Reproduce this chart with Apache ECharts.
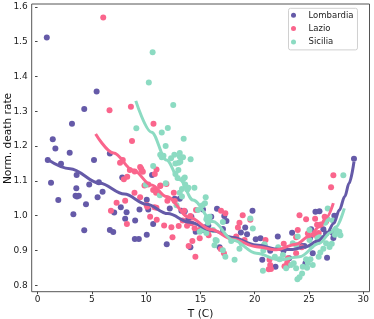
<!DOCTYPE html>
<html>
<head>
<meta charset="utf-8">
<script src="https://cdn.jsdelivr.net/npm/echarts@6/dist/echarts.min.js"></script>
<style>
html,body{margin:0;padding:0;background:#fff;}
#c{width:374px;height:319px;}
</style>
</head>
<body>
<div id="c"></div>
<script>
// ---- data ----
var seriesNames = ['Lombardia', 'Lazio', 'Sicilia'];
var xTicks = [0, 5, 10, 15, 20, 25, 30];
var yTicks = [0.8, 0.9, 1.0, 1.1, 1.2, 1.3, 1.4, 1.5, 1.6];
var xTitle = 'T (C)';
var yTitle = 'Norm. death rate';

var lombardia = [
[0.85,1.512],[5.44,1.357],[4.3,1.307],[3.17,1.264],[1.4,1.22],[1.64,1.193],[2.96,1.181],[6.66,1.179],[0.94,1.16],[5.2,1.16],
[1.24,1.095],[1.91,1.045],[2.16,1.149],[3.6,1.117],[3.57,1.079],[3.5,1.057],[3.63,1.055],[3.8,1.057],[3.3,1.004],[4.46,1.033],
[4.3,0.958],[4.76,1.09],[5.65,1.096],[5.53,1.053],[5.99,1.069],[6.66,0.959],[6.97,0.953],[7.06,1.009],[7.67,1.024],[7.8,1.11],
[8.2,1.01],[8.07,0.991],[8.99,0.986],[8.96,0.933],[9.33,0.933],[9.39,1.018],[10.06,1.046],[10.2,1.018],[10.06,0.945],[10.65,0.976],
[10.55,1.117],[11.9,0.918],[12.18,1.021],[12.64,1.049],[13.1,1.049],[13.25,1.014],[13.56,1.013],[14.17,0.997],[13.86,0.988],[14.08,0.909],
[14.57,0.954],[15.18,0.959],[15.24,1.018],[15.55,0.968],[15.73,0.972],[16.0,0.997],[16.53,1.02],[16.77,0.909],[17.08,0.962],[17.2,0.999],
[17.4,0.985],[18.73,0.952],[19.13,0.966],[19.3,0.947],[19.8,1.014],[20.1,0.932],[20.54,0.935],[20.9,0.916],[20.7,0.873],[21.43,0.899],
[21.92,0.853],[22.13,0.94],[22.66,0.899],[22.96,0.855],[23.18,0.878],[23.45,0.951],[24.37,0.913],[24.58,0.913],[24.68,0.863],[25.1,0.936],
[25.2,0.961],[25.35,0.892],[25.6,1.011],[25.8,0.925],[25.97,1.013],[26.33,0.961],[26.58,0.949],[26.67,0.879],[27.2,0.95],[27.25,0.936],
[27.34,1.0],[29.15,1.164]
];

var lazio = [
[6.05,1.57],[6.63,1.303],[8.6,1.313],[10.68,1.264],[8.7,1.215],
[7.6,1.152],[7.85,1.16],[8.5,1.131],[8.95,1.127],[9.45,1.14],[9.6,1.13],[9.7,1.126],[9.55,1.135],[10.8,1.12],[10.96,1.133],
[6.76,1.014],[7.28,1.037],[7.95,1.105],[8.26,1.112],[8.07,1.043],[8.23,0.976],[8.93,1.066],[9.45,1.053],[9.85,1.087],[10.04,1.031],
[10.37,0.997],[10.65,1.074],[10.77,1.024],[10.92,1.066],[10.98,0.988],[11.32,1.087],[11.66,0.972],[11.87,1.091],[11.96,1.043],[12.33,0.967],
[12.43,0.938],[12.55,1.066],[12.64,1.042],[13.0,0.97],[13.37,0.986],[13.5,1.014],[13.77,0.971],[13.92,0.913],[10.2,1.09],[11.3,1.085],
[10.1,1.026],[10.95,1.023],[14.17,0.978],[14.47,0.964],[14.94,0.935],[14.26,0.927],[15.1,0.968],[14.94,0.959],[14.6,1.016],[14.08,0.999],
[14.54,0.882],[15.7,0.954],[15.76,0.944],[16.87,0.904],[17.17,0.892],[16.9,1.014],[17.3,1.007],[18.0,0.932],[18.3,0.94],[18.46,0.966],
[18.6,0.98],[18.9,1.001],[19.07,0.93],[19.6,0.988],[21.0,0.93],[21.3,0.846],[21.5,0.847],[21.43,0.858],[21.37,0.873],[22.68,0.919],
[22.75,0.855],[23.0,0.865],[23.05,0.878],[23.82,0.938],[23.82,0.892],[23.97,0.959],[24.13,1.001],[24.34,0.909],[24.74,0.99],[24.9,0.949],
[25.5,0.945],[25.57,0.991],[25.75,0.974],[25.9,0.95],[26.1,0.975],[26.45,0.997],[26.58,0.983],[27.04,1.082],[27.25,1.116]
];

var sicilia = [
[10.6,1.47],[10.25,1.383],[9.1,1.251],[11.44,1.239],[12.0,1.252],[12.5,1.318],[11.8,1.2],[13.46,1.221],
[11.3,1.175],[11.44,1.168],[11.6,1.172],[12.6,1.175],[13.1,1.17],[13.4,1.168],[14.1,1.162],[12.3,1.165],
[12.7,1.15],[13.0,1.152],[12.7,1.12],[12.97,1.131],[13.56,1.11],[10.65,1.143],[13.1,1.18],[13.15,1.155],
[9.97,1.089],[11.26,1.059],[11.81,1.093],[12.8,1.03],[13.4,1.105],[13.6,1.09],[13.8,1.075],[13.1,1.066],[13.3,1.055],
[14.45,1.08],[13.3,1.077],[13.9,1.08],[12.9,1.108],
[14.78,1.016],[15.42,1.036],[15.49,1.053],[15.2,1.03],[15.6,0.995],[15.55,0.99],[15.85,0.997],[15.7,0.98],[14.94,0.954],
[15.2,0.96],[15.55,0.95],[16.16,0.959],[16.4,0.93],[16.5,0.928],[16.3,0.915],[17.07,0.982],[17.07,0.901],[17.3,0.882],[17.84,0.927],
[18.15,0.873],[18.8,0.92],[18.6,0.905],[19.6,0.992],[19.83,0.963],[20.76,0.842],[20.8,0.9],[20.9,0.918],[21.86,0.882],[22.3,0.875],
[22.17,0.909],[22.6,0.887],[22.9,0.849],[23.36,0.858],[23.51,0.921],[23.6,0.863],[23.82,0.849],[23.82,0.916],[23.97,0.94],[23.94,0.817],
[24.13,0.823],[24.37,0.834],[24.43,0.853],[24.74,0.875],[24.83,0.85],[24.9,0.864],[25.05,0.959],[25.05,0.93],[25.2,0.913],[25.14,0.875],
[25.35,0.858],[25.8,0.935],[25.9,0.882],[26.05,0.894],[25.97,0.938],[26.33,0.905],[26.5,0.98],[26.58,0.921],[26.73,0.99],[26.73,1.021],
[26.9,0.91],[27.1,0.919],[27.2,0.986],[27.4,0.945],[27.5,0.959],[27.8,0.954],[27.9,0.944],[28.17,1.116]
];

// fitted curves, points
var lombardiaFit = [[0.85,1.163],[3,1.135],[5.74,1.093],[8,1.062],[10.04,1.033],[12,1.006],[14.0,0.981],[16.16,0.957],[18,0.937],[20.1,0.916],[22.3,0.903],[23.5,0.903],[24.74,0.911],[25.8,0.927],[26.58,0.945],[27.3,0.978],[27.8,1.016],[28.3,1.055],[28.7,1.093],[29.15,1.155]];
var lazioFit = [[5.35,1.235],[7,1.18],[8.8,1.131],[10.5,1.088],[11.87,1.055],[14.0,0.995],[16,0.96],[18,0.932],[20.15,0.911],[22,0.902],[23.82,0.918],[25,0.94],[25.97,0.968],[26.6,0.995],[27.25,1.036]];
var siciliaFit = [[9.05,1.33],[10.5,1.24],[11.87,1.16],[13.1,1.103],[14.32,1.045],[16.16,0.983],[18.0,0.93],[20.15,0.892],[22.3,0.873],[24.13,0.882],[25.97,0.921],[27.0,0.952],[27.5,0.968],[28.26,1.021]];

var colors = ['#655aa8', '#fa658c', '#8cdbc2'];
var FONT = 'DejaVu Sans';

var chart = echarts.init(document.getElementById('c'), null, {renderer: 'canvas'});

function scatterSeries(name, data, color) {
  return {
    name: name, type: 'scatter', data: data, symbol: 'circle', symbolSize: 6,
    itemStyle: {color: color, opacity: 1}, z: 2, silent: true, animation: false
  };
}
function fitSeries(data, color) {
  return {
    name: '_fit', type: 'line', data: data, showSymbol: false, symbol: 'none',
    smooth: 0.35, smoothMonotone: 'x',
    lineStyle: {color: color, width: 3}, z: 3, silent: true, animation: false
  };
}

var option = {
  animation: false,
  backgroundColor: '#fff',
  textStyle: {fontFamily: FONT},
  grid: {left: 31.7, right: 4.5, top: 4, bottom: 27.3, show: true, borderColor: '#555', borderWidth: 1, outerBoundsMode: 'none', containLabel: false},
  legend: {
    data: seriesNames.map(function (n) { return {name: n, icon: 'circle'}; }),
    orient: 'vertical', left: 288.5, top: 8.3,
    itemWidth: 20, itemHeight: 5, itemGap: 3.3, itemTextGap: 6.5,
    padding: [2, 4, 3, 2.5],
    borderColor: '#d0d0d0', borderWidth: 1, borderRadius: 2, backgroundColor: '#fff',
    textStyle: {fontFamily: FONT, fontSize: 8.5, color: '#222', lineHeight: 10}
  },
  graphic: [{
    type: 'text', x: 8.5, y: 138.5, rotation: Math.PI / 2, silent: true,
    style: {text: yTitle, font: '10.6px "DejaVu Sans"', fill: '#111', align: 'center', verticalAlign: 'middle'}
  }],
  xAxis: {
    type: 'value', min: -0.54, max: 30.58,
    name: xTitle, nameLocation: 'middle', nameGap: 10,
    nameTextStyle: {fontFamily: FONT, fontSize: 10.6, color: '#111'},
    axisLine: {show: false},
    axisTick: {show: true, length: 2.5, customValues: xTicks, lineStyle: {color: '#444'}},
    axisLabel: {customValues: xTicks, fontFamily: FONT, fontSize: 9, color: '#222', margin: 3},
    splitLine: {show: false}
  },
  yAxis: {
    type: 'value', min: 0.7815, max: 1.6085,
    axisLine: {show: false},
    axisTick: {show: true, length: 2.5, customValues: yTicks, lineStyle: {color: '#444'}},
    axisLabel: {customValues: yTicks, fontFamily: FONT, fontSize: 9, color: '#222', margin: 4,
      formatter: function (v) { return v.toFixed(1); }},
    splitLine: {show: false}
  },
  series: [
    scatterSeries(seriesNames[0], lombardia, colors[0]),
    scatterSeries(seriesNames[1], lazio, colors[1]),
    scatterSeries(seriesNames[2], sicilia, colors[2]),
    fitSeries(lombardiaFit, colors[0]),
    fitSeries(lazioFit, colors[1]),
    fitSeries(siciliaFit, colors[2])
  ]
};
chart.setOption(option);
</script>
</body>
</html>
